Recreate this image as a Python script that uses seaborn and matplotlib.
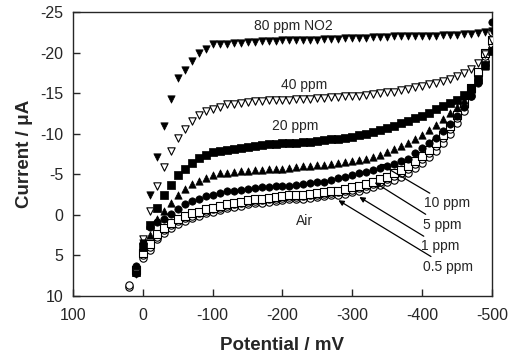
import numpy as np
import pandas as pd
import matplotlib
matplotlib.use("Agg")
import matplotlib.pyplot as plt
import seaborn as sns

sns.set_style("ticks")
plt.rcParams["font.family"] = ["Liberation Sans", "DejaVu Sans"]
plt.rcParams["axes.unicode_minus"] = False

nan = np.nan

# potential (mV), common to all curves
potential = [20, 10, 0, -10, -20, -30, -40, -50, -60, -70,
             -80, -90, -100, -110, -120, -130, -140, -150, -160, -170,
             -180, -190, -200, -210, -220, -230, -240, -250, -260, -270,
             -280, -290, -300, -310, -320, -330, -340, -350, -360, -370,
             -380, -390, -400, -410, -420, -430, -440, -450, -460, -470,
             -480, -490, -500]

# current (uA)
i_80ppm = [nan, 7.3, 3.5, -2.5, -7.1, -10.9, -14.3, -16.9, -17.9, -18.9,
           -19.9, -20.5, -21.0, -21.0, -21.1, -21.2, -21.2, -21.3, -21.3, -21.4,
           -21.4, -21.4, -21.5, -21.5, -21.5, -21.6, -21.6, -21.6, -21.7, -21.7,
           -21.7, -21.8, -21.8, -21.8, -21.8, -21.9, -21.9, -21.9, -22.0, -22.0,
           -22.0, -22.0, -22.1, -22.1, -22.1, -22.2, -22.2, -22.2, -22.3, -22.3,
           -22.4, -22.5, -22.6]
i_40ppm = [nan, 7.2, 3.0, -0.5, -3.5, -5.9, -7.9, -9.5, -10.6, -11.6,
           -12.3, -12.8, -13.1, -13.3, -13.6, -13.7, -13.8, -13.9, -14.0, -14.0,
           -14.1, -14.1, -14.2, -14.2, -14.3, -14.3, -14.3, -14.4, -14.4, -14.5,
           -14.5, -14.6, -14.6, -14.7, -14.8, -14.9, -15.0, -15.1, -15.2, -15.4,
           -15.5, -15.7, -15.9, -16.1, -16.3, -16.5, -16.8, -17.1, -17.5, -18.0,
           -18.7, -19.8, -21.5]
i_20ppm = [nan, 7.0, 4.0, 1.2, -0.8, -2.5, -3.7, -4.9, -5.7, -6.4,
           -7.0, -7.4, -7.7, -7.9, -8.0, -8.1, -8.3, -8.4, -8.5, -8.6,
           -8.7, -8.7, -8.8, -8.8, -8.9, -9.0, -9.0, -9.1, -9.2, -9.3,
           -9.4, -9.5, -9.6, -9.8, -10.0, -10.2, -10.4, -10.7, -11.0, -11.3,
           -11.6, -11.9, -12.2, -12.6, -13.0, -13.4, -13.8, -14.2, -14.8, -15.6,
           -16.8, -18.5, -20.2]
i_10ppm = [nan, 7.0, 4.0, 2.5, 0.5, -0.5, -1.5, -2.5, -3.2, -3.8,
           -4.2, -4.6, -4.9, -5.1, -5.2, -5.3, -5.4, -5.4, -5.5, -5.5,
           -5.6, -5.7, -5.7, -5.8, -5.9, -6.0, -6.0, -6.1, -6.2, -6.3,
           -6.4, -6.5, -6.6, -6.7, -6.9, -7.1, -7.4, -7.7, -8.1, -8.5,
           -8.9, -9.4, -9.9, -10.5, -11.1, -11.8, -12.5, -13.3, -14.2, -15.3,
           -16.6, -18.3, -20.5]
i_5ppm = [nan, 6.3, 3.5, 1.5, 0.9, 0.5, -0.1, -0.7, -1.3, -1.7,
          -2.0, -2.3, -2.5, -2.7, -2.9, -3.0, -3.1, -3.2, -3.3, -3.4,
          -3.4, -3.5, -3.5, -3.6, -3.7, -3.8, -3.9, -4.0, -4.1, -4.3,
          -4.5, -4.7, -4.9, -5.1, -5.3, -5.5, -5.8, -6.0, -6.3, -6.6,
          -6.9, -7.6, -8.2, -8.8, -9.5, -10.3, -11.2, -12.2, -13.3, -14.6,
          -16.2, -18.5, -23.8]
i_1ppm = [nan, 6.8, 4.7, 3.6, 2.4, 1.6, 1.0, 0.5, 0.1, -0.2,
          -0.4, -0.7, -0.9, -1.1, -1.3, -1.5, -1.6, -1.8, -1.9, -2.0,
          -2.1, -2.2, -2.3, -2.4, -2.4, -2.5, -2.6, -2.7, -2.8, -2.9,
          -3.0, -3.2, -3.4, -3.6, -3.8, -4.1, -4.4, -4.7, -5.1, -5.5,
          -6.0, -6.6, -7.2, -8.0, -8.9, -9.9, -11.0, -12.3, -13.8, -15.6,
          -17.6, -20.0, -21.5]
i_05ppm = [8.6, 7.0, 5.0, 4.0, 2.7, 1.9, 1.3, 0.8, 0.4, 0.1,
           -0.2, -0.5, -0.7, -0.9, -1.1, -1.3, -1.4, -1.6, -1.7, -1.8,
           -1.9, -2.0, -2.1, -2.2, -2.2, -2.3, -2.4, -2.5, -2.6, -2.7,
           -2.8, -2.9, -3.1, -3.3, -3.5, -3.8, -4.1, -4.4, -4.8, -5.2,
           -5.7, -6.3, -6.9, -7.6, -8.5, -9.5, -10.6, -11.9, -13.4, -15.2,
           -17.2, -19.6, -21.0]
i_air = [8.9, 7.2, 5.3, 4.3, 3.0, 2.2, 1.6, 1.1, 0.7, 0.4,
         0.1, -0.2, -0.4, -0.6, -0.8, -1.0, -1.1, -1.3, -1.4, -1.5,
         -1.6, -1.7, -1.8, -1.9, -1.9, -2.0, -2.1, -2.2, -2.3, -2.4,
         -2.5, -2.6, -2.8, -3.0, -3.2, -3.4, -3.7, -4.0, -4.3, -4.7,
         -5.2, -5.8, -6.4, -7.1, -7.9, -8.9, -10.0, -11.3, -12.8, -14.6,
         -16.6, -19.0, -22.5]

# (data, marker, filled)
series = [
    (i_air, "o", False),
    (i_05ppm, "o", False),
    (i_1ppm, "s", False),
    (i_5ppm, "o", True),
    (i_10ppm, "^", True),
    (i_20ppm, "s", True),
    (i_40ppm, "v", False),
    (i_80ppm, "v", True),
]

fig = plt.figure(figsize=(5.09, 3.59), dpi=100)
ax = fig.add_axes([0.1434, 0.1755, 0.8232, 0.7911])

for vals, mk, filled in series:
    df = pd.DataFrame({"E": potential, "I": vals}).dropna()
    if filled:
        sns.scatterplot(data=df, x="E", y="I", marker=mk, s=28, color="black",
                        edgecolor="black", linewidth=0.5, ax=ax, zorder=3)
    else:
        sns.scatterplot(data=df, x="E", y="I", marker=mk, s=28, facecolor="white",
                        edgecolor="black", linewidth=0.8, ax=ax, zorder=3)

ax.set_xlim(100, -500)
ax.set_ylim(10, -25)
ax.set_xticks([100, 0, -100, -200, -300, -400, -500])
ax.set_yticks([10, 5, 0, -5, -10, -15, -20, -25])
ax.tick_params(direction="in", length=5, width=1, labelsize=11.5,
               top=False, right=False)
ax.tick_params(axis="x", pad=9)
ax.tick_params(axis="y", pad=7)
for sp in ax.spines.values():
    sp.set_linewidth(1)

ax.set_xlabel("Potential / mV", fontsize=13.5, fontweight="bold", labelpad=10)
ax.set_ylabel("Current / \u03bcA", fontsize=13.5, fontweight="bold", labelpad=5)

# curve labels
ax.text(-216, -23.3, "80 ppm NO2", fontsize=10, ha="center", va="center")
ax.text(-231, -16.0, "40 ppm", fontsize=10, ha="center", va="center")
ax.text(-218, -11.0, "20 ppm", fontsize=10, ha="center", va="center")
ax.text(-232, 0.7, "Air", fontsize=10, ha="center", va="center")

arrow = dict(arrowstyle="-|>", color="black", lw=0.9, mutation_scale=8,
             shrinkA=0, shrinkB=0)
ax.annotate("10 ppm", xy=(-339, -6.3), xytext=(-403, -1.4), fontsize=10,
            ha="left", va="center", arrowprops=arrow)
ax.annotate("5 ppm", xy=(-332, -4.0), xytext=(-401, 1.2), fontsize=10,
            ha="left", va="center", arrowprops=arrow)
ax.annotate("1 ppm", xy=(-310, -2.2), xytext=(-399, 3.9), fontsize=10,
            ha="left", va="center", arrowprops=arrow)
ax.annotate("0.5 ppm", xy=(-280, -1.8), xytext=(-401, 6.4), fontsize=10,
            ha="left", va="center", arrowprops=arrow)

plt.savefig("out.png", dpi=100)
